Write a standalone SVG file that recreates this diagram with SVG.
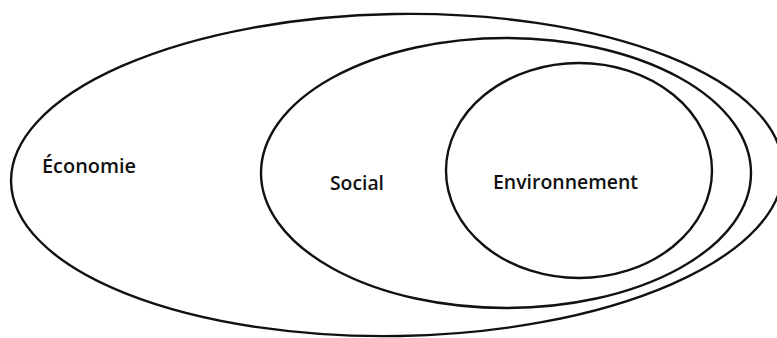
<svg xmlns="http://www.w3.org/2000/svg" width="777" height="338" viewBox="0 0 777 338">
<style>
.ring{fill:none;stroke:#111;stroke-width:2.4}
.lbl{font-family:"Open Sans","Liberation Sans",sans-serif;font-weight:600;font-size:20px;fill:#111}
</style>
<rect width="777" height="338" fill="#fff"/>
<g id="economie">
<ellipse class="ring" cx="397" cy="175" rx="386" ry="161" transform="rotate(-1 397 175)"/>
<text class="lbl" x="42" y="173" textLength="94" lengthAdjust="spacingAndGlyphs">Économie</text>
</g>
<g id="social">
<ellipse class="ring" cx="506" cy="173" rx="245" ry="135"/>
<text class="lbl" x="330" y="190" textLength="54" lengthAdjust="spacingAndGlyphs">Social</text>
</g>
<g id="environnement">
<ellipse class="ring" cx="579" cy="170.5" rx="133" ry="107.5"/>
<text class="lbl" x="493" y="189" textLength="145" lengthAdjust="spacingAndGlyphs">Environnement</text>
</g>
<g id="connectors"></g>
</svg>
